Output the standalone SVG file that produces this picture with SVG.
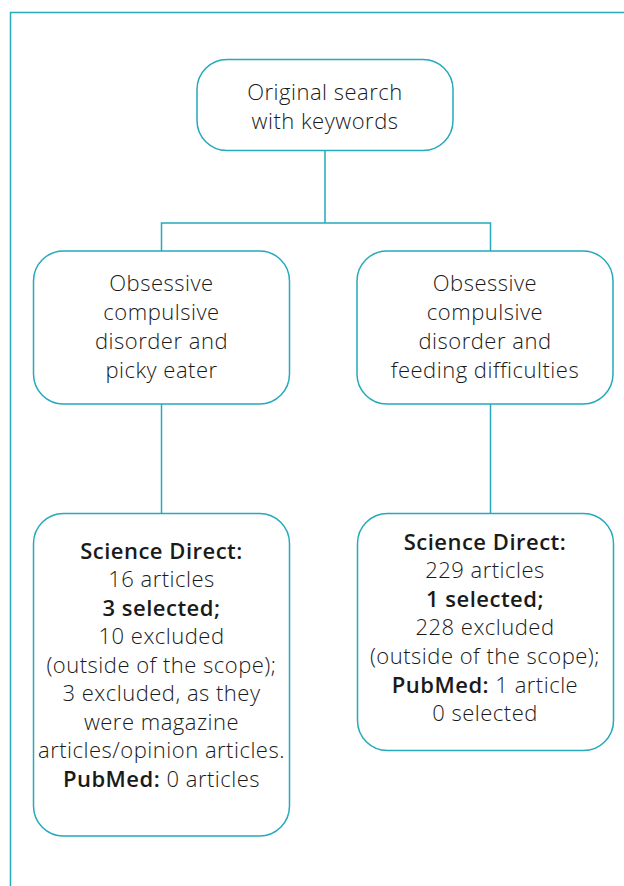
<svg xmlns="http://www.w3.org/2000/svg" width="624" height="886" viewBox="0 0 624 886">
<style>
.box{fill:#ffffff;stroke:#25a9bc;stroke-width:1.5}
.ln{fill:none;stroke:#25a9bc;stroke-width:1.5}
.t{font-family:"Open Sans","Noto Sans","Liberation Sans",sans-serif;font-weight:300;font-size:22px;letter-spacing:0.5px;fill:#1a1a1a;text-anchor:middle}
.b{font-weight:600}
</style>
<rect width="624" height="886" fill="#ffffff"/>
<g id="frame">
<path class="ln" d="M10.5,886 V12.5 H624"/>
</g>
<g id="connectors">
<path class="ln" d="M325,150 V223 M161.5,251 V223 H490.5 V251"/>
<path class="ln" d="M161.5,404 V513"/>
<path class="ln" d="M490.5,404 V513"/>
</g>
<g id="n-original">
<rect class="box" x="197" y="59.5" width="256" height="91" rx="30"/>
<text class="t" x="325" y="100">Original search</text>
<text class="t" x="325" y="129">with keywords</text>
</g>
<g id="n-picky">
<rect class="box" x="33.5" y="251" width="256" height="153" rx="30"/>
<text class="t" x="161.5" y="291">Obsessive</text>
<text class="t" x="161.5" y="320">compulsive</text>
<text class="t" x="161.5" y="349">disorder and</text>
<text class="t" x="161.5" y="378">picky eater</text>
</g>
<g id="n-feeding">
<rect class="box" x="357" y="251" width="256" height="153" rx="30"/>
<text class="t" x="485" y="291">Obsessive</text>
<text class="t" x="485" y="320">compulsive</text>
<text class="t" x="485" y="349">disorder and</text>
<text class="t" x="485" y="378">feeding difficulties</text>
</g>
<g id="n-result-left">
<rect class="box" x="33.5" y="513.5" width="256" height="322.5" rx="30"/>
<text class="t b" x="161.5" y="559">Science Direct:</text>
<text class="t" x="161.5" y="587">16 articles</text>
<text class="t b" x="161.5" y="616">3 selected;</text>
<text class="t" x="161.5" y="644">10 excluded</text>
<text class="t" x="161.5" y="673">(outside of the scope);</text>
<text class="t" x="161.5" y="701">3 excluded, as they</text>
<text class="t" x="161.5" y="730">were magazine</text>
<text class="t" x="161.5" y="758">articles/opinion articles.</text>
<text class="t" x="161.5" y="787"><tspan class="b">PubMed:</tspan> 0 articles</text>
</g>
<g id="n-result-right">
<rect class="box" x="357.5" y="513.5" width="256" height="237" rx="30"/>
<text class="t b" x="485" y="550">Science Direct:</text>
<text class="t" x="485" y="578">229 articles</text>
<text class="t b" x="485" y="607">1 selected;</text>
<text class="t" x="485" y="635">228 excluded</text>
<text class="t" x="485" y="664">(outside of the scope);</text>
<text class="t" x="485" y="693"><tspan class="b">PubMed:</tspan> 1 article</text>
<text class="t" x="485" y="721">0 selected</text>
</g>
</svg>
